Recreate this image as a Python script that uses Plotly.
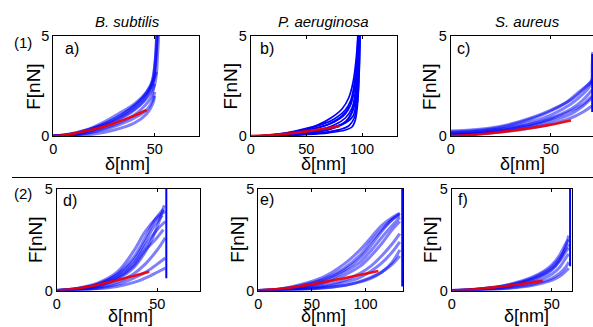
import plotly.graph_objects as go

W, H = 593, 327

# ---------------- data ----------------
TITLES = ["B. subtilis", "P. aeruginosa", "S. aureus"]
PANEL_LETTERS = ["a)", "b)", "c)", "d)", "e)", "f)"]
ROW_LABELS = ["(1)", "(2)"]
X_LABEL = "δ[nm]"
Y_LABEL = "F[nN]"

X_RANGES = [[0, 72], [0, 131], [0, 71], [0, 71], [0, 135], [0, 60]]
X_TICKS = [[0, 50], [0, 50, 100], [0, 50], [0, 50], [0, 50, 100], [0, 50]]
Y_RANGE = [0, 5]
Y_TICKS = [0, 5]

# panel a (B. subtilis, row 1)
A_CURVES = [
    ([0, 8, 16, 24, 32, 40, 45, 48, 50, 51], [0, 0.05, 0.2, 0.45, 0.8, 1.3, 1.8, 2.4, 3.5, 5.2]),
    ([0, 8, 16, 24, 32, 40, 45, 49, 50.5, 51.5], [0, 0.08, 0.28, 0.55, 0.95, 1.5, 2.0, 2.6, 3.8, 5.2]),
    ([0, 8, 16, 24, 32, 40, 44, 48, 50], [0, 0.03, 0.15, 0.35, 0.65, 1.05, 1.4, 1.9, 2.6]),
    ([0, 8, 16, 24, 32, 40, 46, 49, 50.5, 51], [0, 0.1, 0.3, 0.65, 1.1, 1.6, 2.2, 2.8, 4.0, 5.2]),
    ([0, 8, 16, 24, 32, 40, 46, 49, 50], [0, 0.02, 0.12, 0.3, 0.55, 0.9, 1.3, 1.8, 2.2]),
    ([0, 8, 16, 24, 32, 40, 46, 50, 51.5, 52], [0, 0.06, 0.22, 0.5, 0.85, 1.35, 1.9, 2.6, 4.2, 5.2]),
    ([0, 10, 20, 30, 38, 44, 48, 51], [0, 0.1, 0.4, 0.85, 1.35, 1.9, 2.5, 3.2]),
    ([0, 10, 20, 30, 40, 46, 49, 50], [0, 0.02, 0.1, 0.3, 0.65, 1.1, 1.6, 2.0]),
]
A_FIT = ([0, 5, 10, 15, 20, 25, 30, 35, 40, 46], [0, 0.04, 0.12, 0.22, 0.34, 0.48, 0.64, 0.82, 1.02, 1.3])

# panel b (P. aeruginosa, row 1)
B_CURVES = [
    ([5, 20, 40, 60, 75, 85, 91, 94, 96, 97], [0, 0.03, 0.12, 0.3, 0.55, 0.9, 1.4, 2.2, 3.5, 5.3]),
    ([8, 20, 40, 60, 75, 85, 90, 93, 95.5, 97], [0, 0.05, 0.18, 0.4, 0.7, 1.1, 1.6, 2.4, 3.6, 5.3]),
    ([6, 20, 40, 60, 75, 85, 90, 94, 96.5, 97.5], [0, 0.02, 0.08, 0.2, 0.4, 0.7, 1.1, 1.8, 3.2, 5.3]),
    ([10, 25, 40, 60, 75, 85, 92, 95, 97, 98], [0, 0.03, 0.1, 0.25, 0.45, 0.65, 1.0, 1.8, 3.4, 5.3]),
    ([5, 20, 40, 60, 75, 85, 90, 93, 95.5, 96.5], [0, 0.06, 0.22, 0.5, 0.85, 1.3, 1.8, 2.6, 3.9, 5.3]),
    ([8, 25, 45, 65, 80, 88, 93, 96, 97.5, 98], [0, 0.02, 0.08, 0.18, 0.32, 0.5, 0.9, 1.8, 3.5, 5.3]),
    ([10, 30, 50, 65, 78, 87, 92, 95, 96.5, 97.5], [0, 0.03, 0.12, 0.25, 0.5, 0.8, 1.3, 2.1, 3.4, 5.3]),
    ([6, 20, 40, 55, 70, 82, 89, 93, 95.5, 97], [0, 0.04, 0.15, 0.35, 0.6, 1.0, 1.5, 2.3, 3.8, 5.3]),
    ([12, 30, 50, 70, 85, 91, 94, 96, 97.5, 98.5], [0, 0.02, 0.07, 0.16, 0.3, 0.45, 0.8, 1.6, 3.2, 5.3]),
    ([5, 20, 40, 60, 72, 82, 88, 92, 95, 96.5], [0, 0.07, 0.25, 0.55, 0.9, 1.35, 1.9, 2.7, 4.0, 5.3]),
]
B_FIT = ([0, 10, 20, 30, 40, 50, 60, 70, 80], [0, 0.02, 0.05, 0.1, 0.16, 0.23, 0.31, 0.4, 0.5])

# panel c (S. aureus, row 1)
C_CURVES = [
    ([0, 10, 20, 30, 40, 50, 60, 66, 70, 70.6, 70.8], [0.15, 0.2, 0.3, 0.45, 0.7, 1.05, 1.6, 2.1, 2.6, 3.5, 4.2]),
    ([0, 10, 20, 30, 40, 50, 60, 66, 70.5], [0.1, 0.15, 0.25, 0.4, 0.6, 0.9, 1.35, 1.8, 2.3]),
    ([0, 10, 20, 30, 40, 50, 60, 66, 70.5], [0.25, 0.3, 0.4, 0.6, 0.9, 1.3, 1.8, 2.3, 2.8]),
    ([0, 10, 20, 30, 40, 50, 60, 66, 70.5], [0.05, 0.08, 0.15, 0.25, 0.4, 0.6, 0.9, 1.2, 1.5]),
    ([0, 10, 20, 30, 40, 50, 58, 64, 70.5], [0.2, 0.25, 0.35, 0.55, 0.85, 1.25, 1.7, 2.2, 2.7]),
    ([0, 10, 20, 30, 40, 50, 60, 66, 70.5], [0.05, 0.1, 0.18, 0.3, 0.5, 0.75, 1.1, 1.5, 1.9]),
    ([0, 10, 20, 30, 40, 50, 60, 66, 70.5], [0.1, 0.12, 0.2, 0.35, 0.55, 0.85, 1.25, 1.6, 2.0]),
]
C_FIT = ([0, 10, 20, 30, 40, 50, 60], [0, 0.05, 0.14, 0.26, 0.4, 0.57, 0.78])
C_STEP = ([70.6, 70.6], [1.2, 4.1])

# panel d (B. subtilis, row 2)
D_CURVES = [
    ([0, 10, 20, 30, 38, 44, 49, 53.5], [0, 0.05, 0.2, 0.55, 1.1, 1.9, 2.9, 4.2]),
    ([0, 10, 20, 30, 38, 44, 49, 53], [0, 0.08, 0.3, 0.8, 1.6, 2.6, 3.5, 4.0]),
    ([0, 10, 20, 30, 38, 44, 50, 54], [0, 0.03, 0.15, 0.4, 0.8, 1.3, 2.0, 2.6]),
    ([0, 10, 20, 30, 38, 44, 50, 54], [0, 0.1, 0.35, 0.9, 1.9, 2.9, 3.6, 3.9]),
    ([0, 10, 20, 30, 38, 45, 50, 54], [0, 0.02, 0.1, 0.3, 0.6, 0.95, 1.3, 1.6]),
    ([0, 10, 20, 30, 38, 44, 50, 54], [0, 0.05, 0.25, 0.65, 1.3, 2.2, 3.0, 3.4]),
    ([0, 10, 20, 30, 40, 46, 50, 54], [0, 0.02, 0.08, 0.2, 0.45, 0.7, 0.9, 1.1]),
    ([0, 10, 20, 30, 38, 44, 49, 53], [0, 0.06, 0.22, 0.6, 1.2, 2.0, 2.5, 3.0]),
    ([0, 10, 20, 30, 38, 44, 48, 52.5], [0, 0.1, 0.3, 0.75, 1.45, 2.4, 3.1, 3.7]),
]
D_FIT = ([0, 10, 20, 30, 40, 46], [0, 0.1, 0.27, 0.5, 0.76, 0.92])
D_STEP = ([54.5, 54.5], [0.6, 5.2])

# panel e (P. aeruginosa, row 2)
E_X = [0, 20, 40, 60, 80, 95, 105, 115, 125, 132]
E_CURVES = [
    (E_X, [0, 0.05, 0.2, 0.5, 1.0, 1.6, 2.2, 2.9, 3.5, 3.8]),
    (E_X, [0, 0.08, 0.3, 0.65, 1.3, 2.0, 2.6, 3.2, 3.6, 3.8]),
    (E_X, [0, 0.02, 0.1, 0.25, 0.5, 0.85, 1.2, 1.7, 2.3, 2.8]),
    (E_X, [0, 0.03, 0.15, 0.35, 0.75, 1.2, 1.7, 2.3, 3.0, 3.4]),
    (E_X, [0, 0.01, 0.05, 0.12, 0.25, 0.45, 0.65, 0.9, 1.3, 1.7]),
    (E_X, [0, 0.06, 0.25, 0.55, 1.1, 1.75, 2.4, 3.0, 3.5, 3.7]),
    (E_X, [0, 0.02, 0.08, 0.18, 0.4, 0.65, 0.95, 1.35, 1.9, 2.4]),
    (E_X, [0, 0.04, 0.18, 0.42, 0.9, 1.4, 1.95, 2.6, 3.2, 3.6]),
    ([0, 25, 50, 70, 90, 105, 115, 125, 132], [0, 0.02, 0.08, 0.18, 0.35, 0.6, 0.9, 1.4, 2.0]),
]
E_FIT = ([0, 20, 40, 60, 80, 100, 112], [0, 0.08, 0.22, 0.4, 0.6, 0.82, 0.96])
E_STEP = ([134.3, 134.3], [0.2, 5.2])

# panel f (S. aureus, row 2)
F_X = [0, 10, 20, 30, 40, 46, 50, 54, 57, 58.5]
F_CURVES = [
    (F_X, [0, 0.03, 0.1, 0.25, 0.5, 0.75, 1.0, 1.5, 2.2, 2.7]),
    (F_X, [0, 0.05, 0.15, 0.33, 0.65, 0.95, 1.25, 1.75, 2.3, 2.5]),
    (F_X, [0, 0.02, 0.06, 0.15, 0.3, 0.45, 0.6, 0.85, 1.15, 1.4]),
    (F_X, [0, 0.03, 0.12, 0.28, 0.55, 0.8, 1.05, 1.45, 1.9, 2.1]),
    (F_X, [0, 0.01, 0.05, 0.12, 0.25, 0.38, 0.5, 0.7, 0.95, 1.1]),
    (F_X, [0, 0.04, 0.13, 0.3, 0.6, 0.88, 1.15, 1.6, 2.05, 2.3]),
    (F_X, [0, 0.02, 0.08, 0.2, 0.4, 0.6, 0.8, 1.15, 1.6, 1.8]),
]
F_FIT = ([0, 10, 20, 30, 40, 45.5], [0, 0.05, 0.14, 0.26, 0.4, 0.48])
F_STEP = ([59.2, 59.2], [1.2, 5.2])

PANELS = [
    (A_CURVES, A_FIT, None, "cloud"),
    (B_CURVES, B_FIT, None, "solid"),
    (C_CURVES, C_FIT, C_STEP, "cloud"),
    (D_CURVES, D_FIT, D_STEP, "cloud"),
    (E_CURVES, E_FIT, E_STEP, "cloud"),
    (F_CURVES, F_FIT, F_STEP, "cloud"),
]

# ---------------- layout geometry (pixels) ----------------
BOXES = [  # left, right, top, bottom
    (53.3, 199.3, 36, 136),
    (250.7, 396.5, 36, 136),
    (450.7, 593, 36, 136),
    (56.7, 199.5, 189, 290.5),
    (258.3, 403, 189, 290.5),
    (451.7, 571.7, 189, 290.5),
]

FONT = "Liberation Sans, Arial, sans-serif"


def px(x):
    return x / W


def py(y):
    return 1 - y / H


fig = go.Figure()

for i, (curves, fit, step, style) in enumerate(PANELS):
    n = i + 1
    xa = "x" if n == 1 else f"x{n}"
    ya = "y" if n == 1 else f"y{n}"
    for cx, cy in curves:
        if style == "cloud":
            line = dict(color="rgba(0,0,250,0.5)", width=3, shape="spline")
        else:
            line = dict(color="rgb(0,0,255)", width=1.7, shape="spline")
        fig.add_trace(go.Scatter(x=cx, y=cy, mode="lines", line=line,
                                 xaxis=xa, yaxis=ya, showlegend=False, hoverinfo="skip"))
    if step is not None:
        fig.add_trace(go.Scatter(x=step[0], y=step[1], mode="lines",
                                 line=dict(color="rgb(0,0,255)", width=2),
                                 xaxis=xa, yaxis=ya, showlegend=False, hoverinfo="skip"))
    fig.add_trace(go.Scatter(x=fit[0], y=fit[1], mode="lines",
                             line=dict(color="rgba(240,0,0,0.92)", width=2.6, shape="spline"),
                             xaxis=xa, yaxis=ya, showlegend=False, hoverinfo="skip"))

    l, r, t, b = BOXES[i]
    axis_common = dict(showline=True, mirror="ticks", linecolor="black", linewidth=1,
                       ticks="inside", ticklen=3, tickcolor="black", showgrid=False,
                       zeroline=False, automargin=False,
                       tickfont=dict(family=FONT, size=14.5, color="black"),
                       fixedrange=True)
    fig.layout[f"xaxis{'' if n == 1 else n}"] = dict(
        domain=[px(l), px(r)], anchor=ya, range=X_RANGES[i],
        tickmode="array", tickvals=X_TICKS[i], **axis_common)
    fig.layout[f"yaxis{'' if n == 1 else n}"] = dict(
        domain=[py(b), py(t)], anchor=xa, range=Y_RANGE,
        tickmode="array", tickvals=Y_TICKS, **axis_common)

annotations = []


def text(x, y, s, size, angle=0):
    annotations.append(dict(x=px(x), y=py(y), xref="paper", yref="paper", text=s,
                            showarrow=False, xanchor="center", yanchor="middle",
                            textangle=angle, font=dict(family=FONT, size=size, color="black")))


# column titles
for cx, title in zip([127, 323, 527], TITLES):
    text(cx, 21.7, f"<i>{title}</i>", 15)

# row labels
text(23, 42, ROW_LABELS[0], 15)
text(23, 193.5, ROW_LABELS[1], 15)

# panel letters
for (lx, ly), s in zip([(72, 48), (266.5, 48), (463.5, 48), (70, 200), (267, 199.5), (463.5, 199.5)],
                       PANEL_LETTERS):
    text(lx, ly, s, 16)

# axis titles
for (yx, yy) in [(33.3, 86.5), (230, 86.5), (429.5, 86.5), (35, 240), (236.7, 240), (430, 240)]:
    text(yx, yy, Y_LABEL, 19, angle=-90)
for (xx, xy) in [(127, 164), (323, 164), (522, 164), (130, 316), (323, 316), (526.5, 316)]:
    text(xx, xy, X_LABEL, 18)

fig.update_layout(
    template="none",
    width=W, height=H, margin=dict(l=0, r=0, t=0, b=0, pad=0),
    paper_bgcolor="white", plot_bgcolor="white",
    annotations=annotations,
    shapes=[dict(type="line", xref="paper", yref="paper", x0=px(12), x1=1,
                 y0=py(177.5), y1=py(177.5), line=dict(color="black", width=1))],
    showlegend=False,
)

fig.write_html("out.html", config={"displayModeBar": False},
               post_script="document.body.style.margin='0';document.body.style.overflow='hidden';")
